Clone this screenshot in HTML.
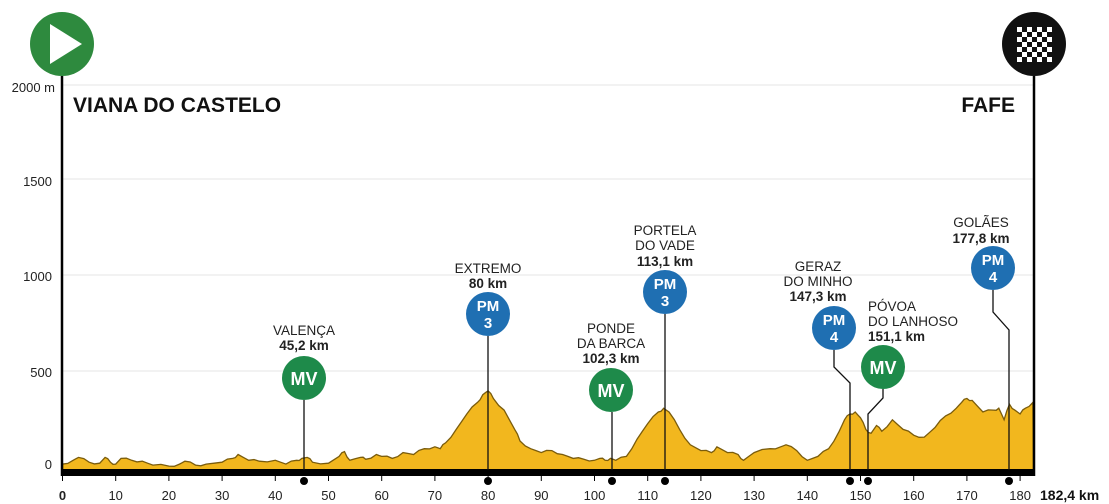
<!DOCTYPE html>
<html><head><meta charset="utf-8"><style>
html,body{margin:0;padding:0;background:#fff;width:1109px;height:504px;overflow:hidden}
svg{display:block;font-family:"Liberation Sans",sans-serif}
</style></head><body>
<svg id="s" width="1109" height="504" viewBox="0 0 1109 504" xmlns="http://www.w3.org/2000/svg">
<defs>
<pattern id="chk" width="10" height="10" patternUnits="userSpaceOnUse" x="1017" y="27">
<rect width="10" height="10" fill="#111"/><rect width="5" height="5" fill="#fff"/><rect x="5" y="5" width="5" height="5" fill="#fff"/>
</pattern>
</defs>
<g stroke="#e6e6e6" stroke-width="1">
<line x1="62" y1="85" x2="1034" y2="85"/><line x1="62" y1="179" x2="1034" y2="179"/>
<line x1="62" y1="275" x2="1034" y2="275"/><line x1="62" y1="371" x2="1034" y2="371"/>
</g>
<g font-size="13" fill="#222" text-anchor="end">
<text x="55" y="92">2000 m</text><text x="52" y="186">1500</text><text x="52" y="281">1000</text>
<text x="52" y="377">500</text><text x="52" y="469">0</text>
</g>
<path id="prof" fill="#f2b71e" stroke="#7a5c0c" stroke-width="1.3"/>
<rect x="62" y="469" width="972" height="7" fill="#000"/>
<line x1="62" y1="76" x2="62" y2="476" stroke="#000" stroke-width="2.5"/>
<line x1="1034" y1="76" x2="1034" y2="476" stroke="#000" stroke-width="2.5"/>
<circle cx="62" cy="44" r="32" fill="#2e8a3e"/>
<polygon points="50,24 50,64 82,44" fill="#fff"/>
<circle cx="1034" cy="44" r="32" fill="#111"/>
<rect x="1017" y="27" width="35" height="35" fill="url(#chk)"/>
<text x="73" y="112" font-size="21" font-weight="bold" fill="#111">VIANA DO CASTELO</text>
<text x="1015" y="112" font-size="21" font-weight="bold" fill="#111" text-anchor="end">FAFE</text>
<g stroke="#111" stroke-width="1.3" fill="none">
<polyline points="304,400 304,470"/>
<polyline points="488,336 488,470"/>
<polyline points="612,412 612,470"/>
<polyline points="665,314 665,470"/>
<polyline points="834,350 834,367 850,383 850,470"/>
<polyline points="883,389 883,398 868,414 868,470"/>
<polyline points="993,290 993,312 1009,330 1009,470"/>
</g>
<g fill="#000">
<circle cx="304" cy="481" r="4"/><circle cx="488" cy="481" r="4"/><circle cx="612" cy="481" r="4"/>
<circle cx="665" cy="481" r="4"/><circle cx="850" cy="481" r="4"/><circle cx="868" cy="481" r="4"/>
<circle cx="1009" cy="481" r="4"/>
</g>
<g font-weight="bold" fill="#fff" text-anchor="middle">
<circle cx="304" cy="378" r="22" fill="#1e8a4a"/><text x="304" y="385" font-size="18">MV</text>
<circle cx="611" cy="390" r="22" fill="#1e8a4a"/><text x="611" y="397" font-size="18">MV</text>
<circle cx="883" cy="367" r="22" fill="#1e8a4a"/><text x="883" y="374" font-size="18">MV</text>
<circle cx="488" cy="314" r="22" fill="#1f6fb2"/><text x="488" y="311" font-size="15">PM</text><text x="488" y="328" font-size="15">3</text>
<circle cx="665" cy="292" r="22" fill="#1f6fb2"/><text x="665" y="289" font-size="15">PM</text><text x="665" y="306" font-size="15">3</text>
<circle cx="834" cy="328" r="22" fill="#1f6fb2"/><text x="834" y="325" font-size="15">PM</text><text x="834" y="342" font-size="15">4</text>
<circle cx="993" cy="268" r="22" fill="#1f6fb2"/><text x="993" y="265" font-size="15">PM</text><text x="993" y="282" font-size="15">4</text>
</g>
<g font-size="13.5" fill="#222" text-anchor="middle">
<text x="304" y="335">VALENÇA</text><text x="304" y="350" font-weight="bold">45,2 km</text>
<text x="488" y="273">EXTREMO</text><text x="488" y="288" font-weight="bold">80 km</text>
<text x="611" y="333">PONDE</text><text x="611" y="348">DA BARCA</text><text x="611" y="363" font-weight="bold">102,3 km</text>
<text x="665" y="235">PORTELA</text><text x="665" y="250">DO VADE</text><text x="665" y="266" font-weight="bold">113,1 km</text>
<text x="818" y="271">GERAZ</text><text x="818" y="286">DO MINHO</text><text x="818" y="301" font-weight="bold">147,3 km</text>
<text x="868" y="311" text-anchor="start">PÓVOA</text><text x="868" y="326" text-anchor="start">DO LANHOSO</text><text x="868" y="341" text-anchor="start" font-weight="bold">151,1 km</text>
<text x="981" y="227">GOLÃES</text><text x="981" y="243" font-weight="bold">177,8 km</text>
</g>
<g id="ticks" font-size="13" fill="#222" text-anchor="middle"></g>
<text x="1040" y="500" font-size="14" font-weight="bold" fill="#111">182,4 km</text>
</svg>
<script>
var d=[[0,20],[2,40],[3,55],[5,30],[7,25],[8,55],[9,30],[10,20],[11,50],[13,40],[15,35],[17,15],[20,10],[22,20],[23,35],[25,15],[27,20],[30,30],[32,50],[33,70],[35,40],[37,35],[40,40],[42,20],[44,40],[45,50],[46,55],[47,30],[50,25],[52,60],[53,85],[54,40],[56,55],[57,45],[59,70],[60,60],[62,50],[64,80],[66,70],[68,100],[70,110],[71,100],[72,130],[74,200],[76,280],[78,340],[79,380],[80,400],[81,360],[83,300],[85,200],[86,140],[88,100],[90,80],[92,90],[94,70],[96,50],[98,45],[100,40],[101,50],[102,40],[103,50],[104,40],[106,60],[108,150],[110,230],[112,290],[113,310],[114,290],[116,200],[118,120],[120,90],[122,80],[123,110],[125,80],[127,70],[128,40],[130,80],[133,100],[135,110],[136,120],[138,90],[140,40],[142,60],[144,100],[146,190],[147,250],[148,280],[149,290],[150,260],[151,200],[152,180],[153,220],[154,190],[156,250],[158,200],[160,170],[162,160],[164,210],[166,270],[168,310],[169,340],[170,360],[171,350],[173,290],[175,300],[176,310],[177,250],[178,330],[179,300],[180,280],[181,310],[182.4,340]];
function X(k){return 62.5+k*5.32}function Y(m){return 468-m*0.193}
var p="M62.5,470";
for(var i=0;i<d.length;i++){var k=d[i][0],m=d[i][1];if(i<d.length-1){var n=d[i+1];}
p+=" L"+X(k).toFixed(1)+","+Y(m).toFixed(1);
if(i<d.length-1){var km=(k+n[0])/2;var mm=(m+n[1])/2+((i%3)-1)*6;p+=" L"+X(km).toFixed(1)+","+Y(Math.max(5,mm)).toFixed(1);}}
p+=" L1033.5,470 Z";document.getElementById("prof").setAttribute("d",p);
var g=document.getElementById("ticks"),h="";
for(var t=0;t<=180;t+=10){var x=X(t);h+='<line x1="'+x+'" y1="476" x2="'+x+'" y2="481" stroke="#000"/>';
h+='<text x="'+x+'" y="500"'+(t==0?' font-weight="bold"':'')+'>'+t+'</text>';}
g.innerHTML=h;
</script>
</body></html>
